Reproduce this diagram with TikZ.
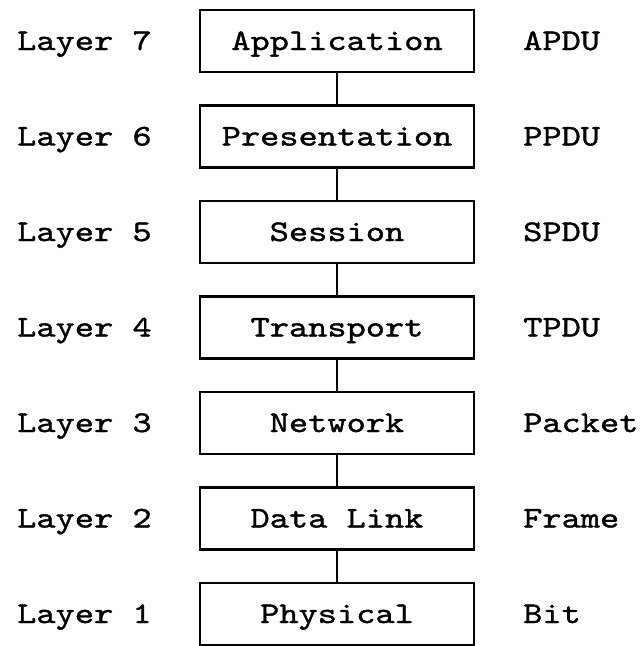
\documentclass[tikz,border=0pt]{standalone}
\usepackage{fontspec}
% Courier-like typewriter face: Latin Modern Mono, widened and slightly darkened
\newfontfamily\lblfont{lmmono10-regular.otf}[FakeStretch=1.22, FakeBold=1.2]
\begin{document}
\begin{tikzpicture}[x=1pt, y=-1pt,
  every node/.style={font=\lblfont\fontsize{30}{36}\selectfont,
    inner sep=0pt, text height=18pt, text depth=0pt},
  layerbox/.style={draw, line width=2.4pt, minimum width=274pt, minimum height=62pt},
  leftlbl/.style={anchor=west},
  rightlbl/.style={anchor=west},
  link/.style={line width=2pt}]
  \useasboundingbox (0,0) rectangle (642,646);
  \fill[white] (0,0) rectangle (642,646);

  % the seven OSI layers, top to bottom
  \foreach \n/\name/\pdu [count=\i from 0] in
    {7/Application/APDU, 6/Presentation/PPDU, 5/Session/SPDU,
     4/Transport/TPDU, 3/Network/Packet, 2/Data Link/Frame, 1/Physical/Bit} {
    \node[layerbox] (b\n) at (337, 41+95.5*\i) {\name};
    \node[leftlbl]  (l\n) at (17, 41+95.5*\i) {Layer \n};
    \node[rightlbl] (p\n) at (523, 41+95.5*\i) {\pdu};
  }

  % vertical links between adjacent layers
  \foreach \a/\b in {7/6, 6/5, 5/4, 4/3, 3/2, 2/1}
    \draw[link] (b\a.south) -- (b\b.north);
\end{tikzpicture}
\end{document}
